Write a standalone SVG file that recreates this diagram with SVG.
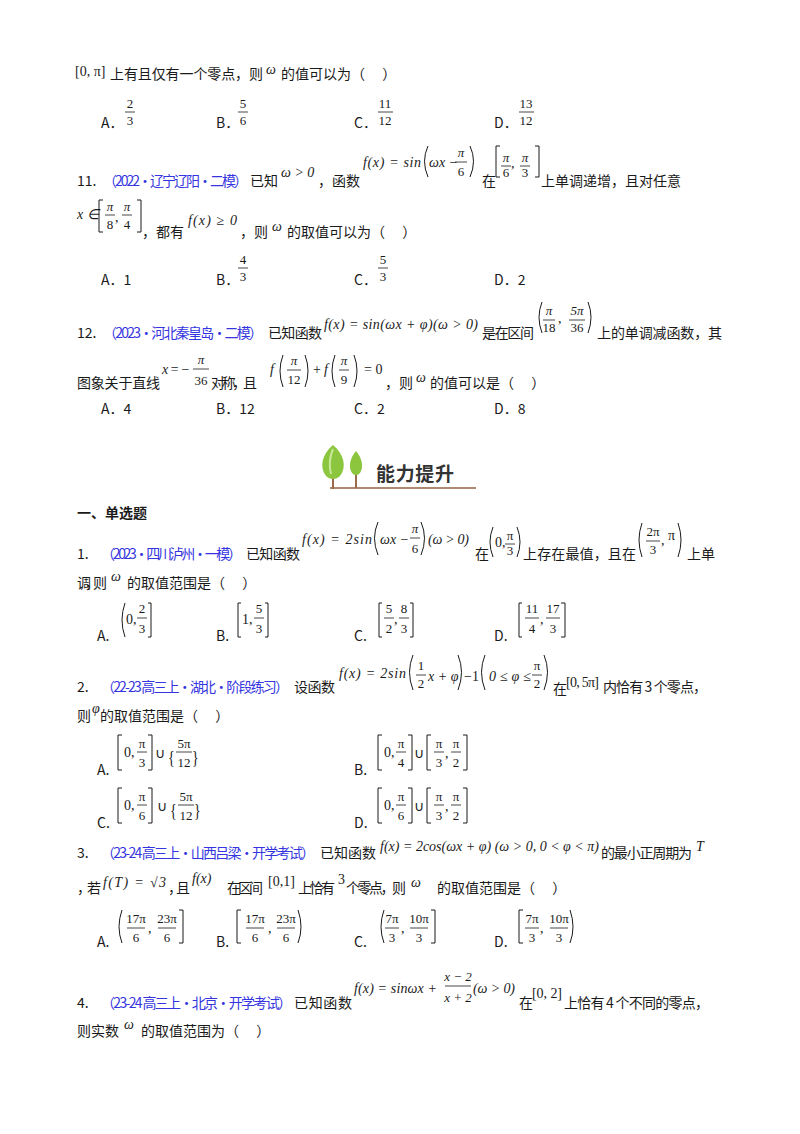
<svg xmlns="http://www.w3.org/2000/svg" width="800" height="1134" viewBox="0 0 800 1134" xml:space="preserve">
<style>
.t{font-family:"Noto Sans CJK SC","Noto Sans",sans-serif;font-size:14px;fill:#1a1a1a}
.b{font-family:"Noto Sans CJK SC","Noto Sans",sans-serif;font-size:14px;fill:#3535e0}
.h{font-family:"Noto Sans CJK SC",sans-serif;font-size:14px;font-weight:bold;fill:#1a1a1a}
.m{font-family:"Liberation Serif",serif;font-size:14px;fill:#1a1a1a}
.i{font-family:"Liberation Serif",serif;font-size:14px;font-style:italic;fill:#1a1a1a}
.f{font-family:"Liberation Serif",serif;font-size:13px;fill:#1a1a1a;text-anchor:middle}
.k{fill:none;stroke:#1a1a1a;stroke-width:1}
.r{stroke:#1a1a1a;stroke-width:0.8}
</style>
<rect width="800" height="1134" fill="#fff"/>

<!-- line 1 -->
<text class="m" x="75" y="76" font-size="13">[0, π]</text>
<text class="t" x="110" y="79" textLength="153">上有且仅有一个零点，则</text>
<text class="i" x="266" y="74" font-size="12">ω</text>
<text class="t" x="281" y="79">的值可以为（　 ）</text>
<text class="t" x="101" y="128">A．</text><text class="f" x="130" y="108">2</text><line class="r" x1="125" y1="112" x2="135" y2="112"/><text class="f" x="130" y="125">3</text>
<text class="t" x="216" y="128">B．</text><text class="f" x="243" y="108">5</text><line class="r" x1="238" y1="112" x2="248" y2="112"/><text class="f" x="243" y="125">6</text>
<text class="t" x="354" y="128">C．</text><text class="f" x="385" y="108">11</text><line class="r" x1="378" y1="112" x2="393" y2="112"/><text class="f" x="385" y="125">12</text>
<text class="t" x="494" y="128">D．</text><text class="f" x="526" y="108">13</text><line class="r" x1="519" y1="112" x2="534" y2="112"/><text class="f" x="526" y="125">12</text>

<!-- Q11 -->
<text class="t" x="77" y="186">11.</text>
<text class="b" x="103" y="186" textLength="145">（2022·辽宁辽阳·二模）</text>
<text class="t" x="250" y="186" textLength="28">已知</text>
<text class="i" x="281" y="177" font-size="13">ω &gt; 0</text>
<text class="t" x="318" y="186" textLength="42">，函数</text>
<text class="i" x="363" y="167" textLength="58">f(x) = sin</text>
<path class="k" d="M428 146 Q421 161 428 177"/>
<text class="i" x="429" y="167">ωx −</text>
<text class="f" x="461" y="157" font-style="italic">π</text><line class="r" x1="455" y1="162" x2="467" y2="162"/><text class="f" x="461" y="176">6</text>
<path class="k" d="M470 146 Q477 161 470 177"/>
<text class="t" x="482" y="186">在</text>
<path class="k" d="M500 146 H496 V177 H500"/>
<text class="f" x="506" y="162" font-style="italic">π</text><line class="r" x1="501" y1="166" x2="511" y2="166"/><text class="f" x="506" y="177">6</text>
<text class="m" x="511" y="168">,</text>
<text class="f" x="525" y="162" font-style="italic">π</text><line class="r" x1="520" y1="166" x2="530" y2="166"/><text class="f" x="525" y="177">3</text>
<path class="k" d="M535 146 H539 V177 H535"/>
<text class="t" x="541" y="186" textLength="140">上单调递增，且对任意</text>

<text class="i" x="77" y="219">x ∈</text>
<path class="k" d="M103 200 H99 V232 H103"/>
<text class="f" x="110" y="211" font-style="italic">π</text><line class="r" x1="105" y1="215" x2="115" y2="215"/><text class="f" x="110" y="229">8</text>
<text class="m" x="115" y="222">,</text>
<text class="f" x="127" y="211" font-style="italic">π</text><line class="r" x1="122" y1="215" x2="132" y2="215"/><text class="f" x="127" y="229">4</text>
<path class="k" d="M137 200 H141 V232 H137"/>
<text class="t" x="142" y="237" textLength="42">，都有</text>
<text class="i" x="188" y="225" textLength="49">f(x) ≥ 0</text>
<text class="t" x="240" y="237" textLength="28">，则</text>
<text class="i" x="272" y="231" font-size="12">ω</text>
<text class="t" x="287" y="237">的取值可以为（　 ）</text>

<text class="t" x="101" y="285">A．1</text>
<text class="t" x="216" y="285">B．</text><text class="f" x="243" y="264">4</text><line class="r" x1="238" y1="268" x2="248" y2="268"/><text class="f" x="243" y="281">3</text>
<text class="t" x="354" y="285">C．</text><text class="f" x="383" y="264">5</text><line class="r" x1="378" y1="268" x2="388" y2="268"/><text class="f" x="383" y="281">3</text>
<text class="t" x="494" y="285">D．2</text>

<!-- Q12 -->
<text class="t" x="77" y="338">12.</text>
<text class="b" x="103" y="338" textLength="160">（2023·河北秦皇岛·二模）</text>
<text class="t" x="268" y="338" textLength="54">已知函数</text>
<text class="i" x="324" y="329" textLength="154">f(x) = sin(ωx + φ)(ω &gt; 0)</text>
<text class="t" x="482" y="338" textLength="52">是在区间</text>
<path class="k" d="M542 302 Q536 317 542 333"/>
<text class="f" x="549" y="315" font-style="italic">π</text><line class="r" x1="543" y1="320" x2="555" y2="320"/><text class="f" x="549" y="332">18</text>
<text class="m" x="558" y="323">,</text>
<text class="f" x="577" y="315" font-style="italic">5π</text><line class="r" x1="569" y1="320" x2="585" y2="320"/><text class="f" x="577" y="332">36</text>
<path class="k" d="M588 302 Q594 317 588 333"/>
<text class="t" x="597" y="338" textLength="125">上的单调减函数，其</text>

<text class="t" x="77" y="388" textLength="83">图象关于直线</text>
<text class="i" x="162" y="374" textLength="28">x = −</text>
<text class="f" x="201" y="364" font-style="italic">π</text><line class="r" x1="193" y1="369" x2="209" y2="369"/><text class="f" x="201" y="385">36</text>
<text class="t" x="211" y="388" textLength="46">对称，且</text>
<text class="i" x="270" y="374">f</text>
<path class="k" d="M283 355 Q277 371 283 387"/>
<text class="f" x="294" y="365" font-style="italic">π</text><line class="r" x1="287" y1="370" x2="301" y2="370"/><text class="f" x="294" y="384">12</text>
<path class="k" d="M305 355 Q311 371 305 387"/>
<text class="m" x="313" y="374">+</text>
<text class="i" x="324" y="374">f</text>
<path class="k" d="M335 355 Q329 371 335 387"/>
<text class="f" x="344" y="365" font-style="italic">π</text><line class="r" x1="339" y1="370" x2="349" y2="370"/><text class="f" x="344" y="384">9</text>
<path class="k" d="M354 355 Q360 371 354 387"/>
<text class="m" x="364" y="374">= 0</text>
<text class="t" x="385" y="388" textLength="28">，则</text>
<text class="i" x="416" y="382" font-size="12">ω</text>
<text class="t" x="430" y="388">的值可以是（　 ）</text>

<text class="t" x="101" y="414">A．4</text>
<text class="t" x="216" y="414">B．12</text>
<text class="t" x="354" y="414">C．2</text>
<text class="t" x="494" y="414">D．8</text>

<!-- banner -->
<g id="banner">
<line x1="330" y1="488" x2="476" y2="488" stroke="#b08a70" stroke-width="2"/>
<line x1="333" y1="466" x2="333" y2="489" stroke="#9a6a4a" stroke-width="2"/>
<line x1="356" y1="468" x2="356" y2="488" stroke="#9a6a4a" stroke-width="2"/>
<path d="M333 445 C344 454 347 467 340 476 C336 480 330 480 326 476 C319 467 322 454 333 445 Z" fill="#8cc63f"/>
<path d="M333 449 C330 456 329 466 331 474" fill="none" stroke="#c9e89a" stroke-width="2"/>
<path d="M356 451 C362 458 364 467 360 473 C357 476 355 476 352 473 C348 467 350 458 356 451 Z" fill="#8cc63f"/>
<text x="376" y="481" font-family="Noto Sans CJK SC,sans-serif" font-size="19" font-weight="bold" fill="#333" textLength="78">能力提升</text>
</g>

<text class="h" x="77" y="518" textLength="70">一、单选题</text>

<!-- Q1 -->
<text class="t" x="77" y="559">1.</text>
<text class="b" x="101" y="559" textLength="141">（2023·四川泸州·一模）</text>
<text class="t" x="246" y="559" textLength="54">已知函数</text>
<text class="i" x="302" y="544" textLength="70">f(x) = 2sin</text>
<path class="k" d="M378 522 Q371 538 378 555"/>
<text class="i" x="380" y="544">ωx −</text>
<text class="f" x="415" y="533" font-style="italic">π</text><line class="r" x1="410" y1="538" x2="420" y2="538"/><text class="f" x="415" y="553">6</text>
<path class="k" d="M421 522 Q428 538 421 555"/>
<text class="i" x="428" y="544" textLength="41">(ω &gt; 0)</text>
<text class="t" x="475" y="559">在</text>
<path class="k" d="M493 527 Q487 542 493 557"/>
<text class="m" x="495" y="547">0,</text>
<text class="f" x="510" y="540">π</text><line class="r" x1="505" y1="544" x2="515" y2="544"/><text class="f" x="510" y="555">3</text>
<path class="k" d="M517 527 Q523 542 517 557"/>
<text class="t" x="523" y="559" textLength="113">上存在最值，且在</text>
<path class="k" d="M642 523 Q636 540 642 557"/>
<text class="f" x="653" y="536">2π</text><line class="r" x1="646" y1="541" x2="660" y2="541"/><text class="f" x="653" y="554">3</text>
<text class="m" x="661" y="545">,</text>
<text class="m" x="668" y="540">π</text>
<path class="k" d="M678 523 Q684 540 678 557"/>
<text class="t" x="687" y="559" textLength="28">上单</text>

<text class="t" x="77" y="588" textLength="30">调，则</text>
<text class="i" x="111" y="581" font-size="12">ω</text>
<text class="t" x="127" y="588">的取值范围是（　 ）</text>

<text class="t" x="97" y="641">A.</text>
<path class="k" d="M125 603 Q119 620 125 637"/>
<text class="m" x="126" y="624">0,</text>
<text class="f" x="142" y="613">2</text><line class="r" x1="137" y1="618" x2="147" y2="618"/><text class="f" x="142" y="633">3</text>
<path class="k" d="M148 603 H151 V637 H148"/>
<text class="t" x="216" y="641">B.</text>
<path class="k" d="M241 603 H238 V637 H241"/>
<text class="m" x="242" y="624">1,</text>
<text class="f" x="259" y="613">5</text><line class="r" x1="254" y1="618" x2="264" y2="618"/><text class="f" x="259" y="633">3</text>
<path class="k" d="M265 603 H268 V637 H265"/>
<text class="t" x="354" y="641">C.</text>
<path class="k" d="M382 603 H379 V637 H382"/>
<text class="f" x="389" y="613">5</text><line class="r" x1="384" y1="618" x2="394" y2="618"/><text class="f" x="389" y="633">2</text>
<text class="m" x="394" y="624">,</text>
<text class="f" x="404" y="613">8</text><line class="r" x1="399" y1="618" x2="409" y2="618"/><text class="f" x="404" y="633">3</text>
<path class="k" d="M410 603 H413 V637 H410"/>
<text class="t" x="494" y="641">D.</text>
<path class="k" d="M522 603 H519 V637 H522"/>
<text class="f" x="532" y="613">11</text><line class="r" x1="525" y1="618" x2="539" y2="618"/><text class="f" x="532" y="633">4</text>
<text class="m" x="540" y="624">,</text>
<text class="f" x="553" y="613">17</text><line class="r" x1="546" y1="618" x2="560" y2="618"/><text class="f" x="553" y="633">3</text>
<path class="k" d="M561 603 H565 V637 H561"/>

<!-- Q2 -->
<text class="t" x="77" y="692">2.</text>
<text class="b" x="101" y="692" textLength="188">（22-23 高三上·湖北·阶段练习）</text>
<text class="t" x="294" y="692" textLength="41">设函数</text>
<text class="i" x="339" y="678" textLength="67">f(x) = 2sin</text>
<path class="k" d="M413 655 Q406 672 413 690"/>
<text class="f" x="421" y="670">1</text><line class="r" x1="416" y1="675" x2="426" y2="675"/><text class="f" x="421" y="688">2</text>
<text class="i" x="428" y="681">x + φ</text>
<path class="k" d="M458 655 Q465 672 458 690"/>
<text class="m" x="464" y="681">−1</text>
<path class="k" d="M485 655 Q478 672 485 690"/>
<text class="i" x="489" y="681" textLength="42">0 ≤ φ ≤</text>
<text class="f" x="537" y="670">π</text><line class="r" x1="532" y1="675" x2="542" y2="675"/><text class="f" x="537" y="688">2</text>
<path class="k" d="M544 655 Q551 672 544 690"/>
<text class="t" x="553" y="694">在</text>
<text class="m" x="566" y="687" textLength="33">[0, 5π]</text>
<text class="t" x="603" y="692" textLength="104">内恰有 3 个零点，</text>

<text class="t" x="77" y="721">则</text>
<text class="i" x="92" y="713" font-size="12">φ</text>
<text class="t" x="100" y="721">的取值范围是（　 ）</text>

<text class="t" x="97" y="775">A.</text>
<path class="k" d="M122 735 H118 V770 H122"/>
<text class="m" x="124" y="757">0,</text>
<text class="f" x="142" y="748">π</text><line class="r" x1="137" y1="752" x2="147" y2="752"/><text class="f" x="142" y="767">3</text>
<path class="k" d="M148 735 H152 V770 H148"/>
<text class="m" x="155" y="758">∪</text>
<text class="m" x="168" y="762" font-size="24" transform="translate(168 758) scale(1 1.4) translate(-168 -758)">{</text>
<text class="f" x="184" y="748">5π</text><line class="r" x1="176" y1="752" x2="192" y2="752"/><text class="f" x="184" y="767">12</text>
<text class="m" x="192" y="762" font-size="24" transform="translate(192 758) scale(1 1.4) translate(-192 -758)">}</text>
<text class="t" x="354" y="775">B.</text>
<path class="k" d="M382 735 H378 V770 H382"/>
<text class="m" x="384" y="757">0,</text>
<text class="f" x="401" y="748">π</text><line class="r" x1="396" y1="752" x2="406" y2="752"/><text class="f" x="401" y="767">4</text>
<path class="k" d="M408 735 H412 V770 H408"/>
<text class="m" x="414" y="758">∪</text>
<path class="k" d="M431 735 H427 V770 H431"/>
<text class="f" x="439" y="748">π</text><line class="r" x1="434" y1="752" x2="444" y2="752"/><text class="f" x="439" y="767">3</text>
<text class="m" x="445" y="758">,</text>
<text class="f" x="456" y="748">π</text><line class="r" x1="451" y1="752" x2="461" y2="752"/><text class="f" x="456" y="767">2</text>
<path class="k" d="M463 735 H467 V770 H463"/>

<text class="t" x="97" y="828">C.</text>
<path class="k" d="M122 788 H118 V823 H122"/>
<text class="m" x="124" y="810">0,</text>
<text class="f" x="142" y="801">π</text><line class="r" x1="137" y1="805" x2="147" y2="805"/><text class="f" x="142" y="820">6</text>
<path class="k" d="M148 788 H152 V823 H148"/>
<text class="m" x="157" y="811">∪</text>
<text class="m" x="170" y="815" font-size="24" transform="translate(170 811) scale(1 1.4) translate(-170 -811)">{</text>
<text class="f" x="186" y="801">5π</text><line class="r" x1="178" y1="805" x2="194" y2="805"/><text class="f" x="186" y="820">12</text>
<text class="m" x="194" y="815" font-size="24" transform="translate(194 811) scale(1 1.4) translate(-194 -811)">}</text>
<text class="t" x="354" y="828">D.</text>
<path class="k" d="M382 788 H378 V823 H382"/>
<text class="m" x="384" y="810">0,</text>
<text class="f" x="401" y="801">π</text><line class="r" x1="396" y1="805" x2="406" y2="805"/><text class="f" x="401" y="820">6</text>
<path class="k" d="M408 788 H412 V823 H408"/>
<text class="m" x="414" y="811">∪</text>
<path class="k" d="M431 788 H427 V823 H431"/>
<text class="f" x="439" y="801">π</text><line class="r" x1="434" y1="805" x2="444" y2="805"/><text class="f" x="439" y="820">3</text>
<text class="m" x="445" y="811">,</text>
<text class="f" x="456" y="801">π</text><line class="r" x1="451" y1="805" x2="461" y2="805"/><text class="f" x="456" y="820">2</text>
<path class="k" d="M463 788 H467 V823 H463"/>

<!-- Q3 -->
<text class="t" x="77" y="858">3.</text>
<text class="b" x="101" y="858" textLength="214">（23-24 高三上·山西吕梁·开学考试）</text>
<text class="t" x="320" y="858" textLength="56">已知函数</text>
<text class="i" x="380" y="851" textLength="219">f(x) = 2cos(ωx + φ) (ω &gt; 0, 0 &lt; φ &lt; π)</text>
<text class="t" x="601" y="858" textLength="91">的最小正周期为</text>
<text class="i" x="696" y="851">T</text>

<text class="t" x="77" y="893" textLength="24">，若</text>
<text class="i" x="103" y="887" textLength="63">f(T) = √3</text>
<text class="t" x="168" y="893" textLength="22">，且</text>
<text class="i" x="192" y="883" font-size="12">f(x)</text>
<text class="t" x="227" y="893" textLength="36">在区间</text>
<text class="m" x="268" y="886">[0,1]</text>
<text class="t" x="298" y="893" textLength="37">上恰有</text>
<text class="m" x="338" y="884" font-size="12">3</text>
<text class="t" x="346" y="893" textLength="60">个零点，则</text>
<text class="i" x="411" y="887" font-size="12">ω</text>
<text class="t" x="437" y="893">的取值范围是（　 ）</text>

<text class="t" x="97" y="947">A.</text>
<path class="k" d="M122 910 Q116 927 122 943"/>
<text class="f" x="136" y="923">17π</text><line class="r" x1="127" y1="928" x2="145" y2="928"/><text class="f" x="136" y="942">6</text>
<text class="m" x="148" y="933">,</text>
<text class="f" x="167" y="923">23π</text><line class="r" x1="158" y1="928" x2="176" y2="928"/><text class="f" x="167" y="942">6</text>
<path class="k" d="M179 910 H183 V943 H179"/>
<text class="t" x="216" y="947">B.</text>
<path class="k" d="M241 910 H237 V943 H241"/>
<text class="f" x="255" y="923">17π</text><line class="r" x1="246" y1="928" x2="264" y2="928"/><text class="f" x="255" y="942">6</text>
<text class="m" x="268" y="933">,</text>
<text class="f" x="286" y="923">23π</text><line class="r" x1="277" y1="928" x2="295" y2="928"/><text class="f" x="286" y="942">6</text>
<path class="k" d="M298 910 Q304 927 298 943"/>
<text class="t" x="354" y="947">C.</text>
<path class="k" d="M384 910 Q378 927 384 943"/>
<text class="f" x="392" y="923">7π</text><line class="r" x1="385" y1="928" x2="399" y2="928"/><text class="f" x="392" y="942">3</text>
<text class="m" x="401" y="933">,</text>
<text class="f" x="419" y="923">10π</text><line class="r" x1="410" y1="928" x2="428" y2="928"/><text class="f" x="419" y="942">3</text>
<path class="k" d="M431 910 H435 V943 H431"/>
<text class="t" x="494" y="947">D.</text>
<path class="k" d="M523 910 H519 V943 H523"/>
<text class="f" x="532" y="923">7π</text><line class="r" x1="525" y1="928" x2="539" y2="928"/><text class="f" x="532" y="942">3</text>
<text class="m" x="540" y="933">,</text>
<text class="f" x="559" y="923">10π</text><line class="r" x1="550" y1="928" x2="568" y2="928"/><text class="f" x="559" y="942">3</text>
<path class="k" d="M570 910 Q576 927 570 943"/>

<!-- Q4 -->
<g transform="translate(0,9)">
<text class="t" x="77" y="999">4.</text>
<text class="b" x="101" y="999" textLength="191">（23-24 高三上·北京·开学考试）</text>
<text class="t" x="294" y="999" textLength="58">已知函数</text>
<text class="i" x="354" y="984" textLength="83">f(x) = sinωx +</text>
<text class="f" x="458" y="972" font-style="italic">x − 2</text><line class="r" x1="445" y1="977" x2="471" y2="977"/><text class="f" x="458" y="993" font-style="italic">x + 2</text>
<text class="i" x="473" y="984" textLength="42">(ω &gt; 0)</text>
<text class="t" x="519" y="999">在</text>
<text class="m" x="532" y="989" textLength="30">[0, 2]</text>
<text class="t" x="564" y="999" textLength="145">上恰有 4 个不同的零点，</text>
<text class="t" x="77" y="1027" textLength="42">则实数</text>
<text class="i" x="124" y="1020" font-size="12">ω</text>
<text class="t" x="141" y="1027">的取值范围为（　 ）</text>
</g>
</svg>
